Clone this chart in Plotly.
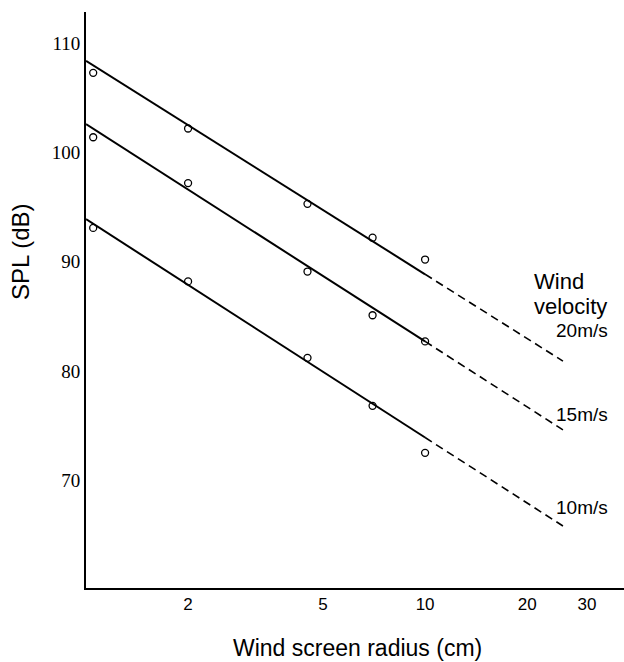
import plotly.graph_objects as go
import numpy as np

# --- data ---
radius_cm = [1.05, 2, 4.5, 7, 10]
spl_20 = [107.3, 102.2, 95.3, 92.2, 90.2]
spl_15 = [101.4, 97.2, 89.1, 85.1, 82.7]
spl_10 = [93.1, 88.2, 81.2, 76.8, 72.5]

# fitted lines: value at r=1, r=10 (end of solid), r=25.5 (end of dashed)
fit_r_solid = [1, 10]
fit_r_dash = [10, 25.5]
fit_20 = [108.4, 88.85, 80.9]
fit_15 = [102.6, 82.7, 74.6]
fit_10 = [93.9, 73.9, 65.8]

labels = ["20m/s", "15m/s", "10m/s"]
x_ticks = [2, 5, 10, 20, 30]
y_ticks = [70, 80, 90, 100, 110]

X0, PW = 86, 538  # plot left edge and width in px
Y0, PH = 12, 576  # plot top edge and height in px

fig = go.Figure()
for fit, pts in [(fit_20, spl_20), (fit_15, spl_15), (fit_10, spl_10)]:
    fig.add_trace(go.Scatter(x=fit_r_solid, y=fit[:2], mode="lines",
                             line=dict(color="black", width=2), showlegend=False,
                             hoverinfo="skip"))
    fig.add_trace(go.Scatter(x=fit_r_dash, y=fit[1:], mode="lines",
                             line=dict(color="black", width=1.6, dash="8px,5px"),
                             showlegend=False, hoverinfo="skip"))
    fig.add_trace(go.Scatter(x=radius_cm, y=pts, mode="markers",
                             marker=dict(symbol="circle-open", size=7,
                                         color="black", line=dict(width=1.3)),
                             showlegend=False))

# series labels next to dashed ends
lab_y = [fit_20[2] + 2.8, fit_15[2] + 1.4, fit_10[2] + 1.7]
for t, yv in zip(labels, lab_y):
    fig.add_annotation(x=np.log10(24.0), y=yv, xref="x", yref="y", text=t,
                       showarrow=False, xanchor="left", yanchor="middle",
                       font=dict(family="Liberation Sans", size=19, color="black"))

def px_x(p):
    return (p - X0) / PW

def px_y(p):
    return 1 - (p - Y0) / PH

fig.add_annotation(x=px_x(532), y=px_y(281), xref="paper", yref="paper",
                   text="Wind", showarrow=False, xanchor="left", yanchor="middle",
                   font=dict(family="Liberation Sans", size=22, color="black"))
fig.add_annotation(x=px_x(532), y=px_y(306), xref="paper", yref="paper",
                   text="velocity", showarrow=False, xanchor="left", yanchor="middle",
                   font=dict(family="Liberation Sans", size=22, color="black"))
fig.add_annotation(x=px_x(20), y=px_y(252), xref="paper", yref="paper",
                   text="SPL (dB)", showarrow=False, textangle=-90,
                   xanchor="center", yanchor="middle",
                   font=dict(family="Liberation Sans", size=24, color="black"))
fig.add_annotation(x=px_x(357), y=px_y(648), xref="paper", yref="paper",
                   text="Wind screen radius (cm)", showarrow=False,
                   xanchor="center", yanchor="middle",
                   font=dict(family="Liberation Sans", size=23, color="black"))

fig.update_layout(
    width=624, height=662,
    margin=dict(l=X0, r=0, t=Y0, b=662 - Y0 - PH),
    paper_bgcolor="white", plot_bgcolor="white",
    xaxis=dict(type="log", range=[0, np.log10(38.6)], tickvals=x_ticks,
               ticktext=[str(v) for v in x_ticks], showgrid=False, zeroline=False,
               showline=True, linecolor="black", linewidth=2, ticks="",
               tickfont=dict(family="Liberation Sans", size=17, color="black")),
    yaxis=dict(range=[60.12, 112.87], tickvals=y_ticks, showgrid=False,
               zeroline=False, showline=True, linecolor="black", linewidth=2,
               ticks="",
               tickfont=dict(family="Liberation Serif", size=19, color="black")),
)

fig.write_html("out.html")
